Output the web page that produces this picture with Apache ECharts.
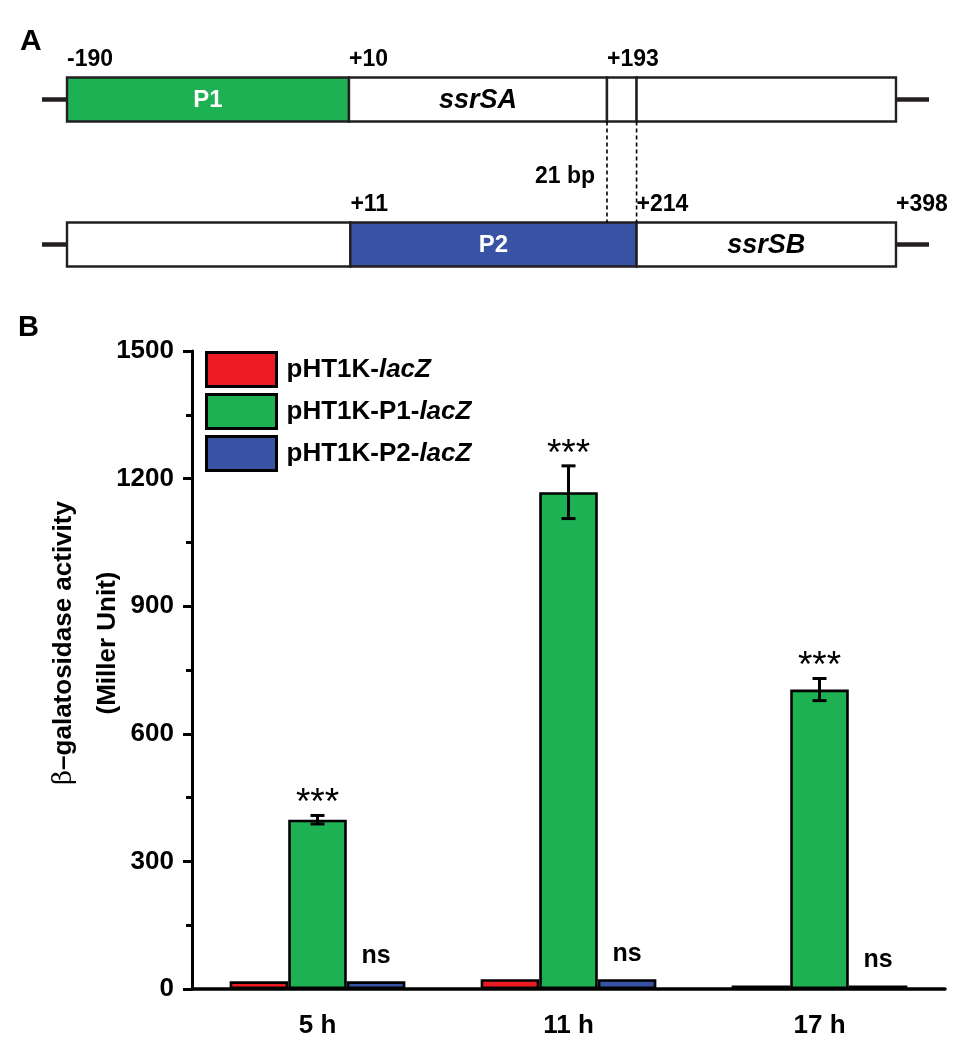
<!DOCTYPE html>
<html><head><meta charset="utf-8">
<script src="https://cdn.jsdelivr.net/npm/echarts@6/dist/echarts.min.js"></script>
<style>html,body{margin:0;padding:0;background:#fff}#c{width:971px;height:1046px}</style>
</head><body><div id="c"></div>
<script>
// ---- Panel B data ----
const timePoints = ['5 h', '11 h', '17 h'];
const seriesNames = ['pHT1K-lacZ', 'pHT1K-P1-lacZ', 'pHT1K-P2-lacZ'];
const controlValues = [18, 23, 8];
const p1Values = [398, 1168, 704];
const p1Errors = [10, 62, 26];
const p2Values = [18, 23, 8];
const p1Significance = ['***', '***', '***'];
const p2Significance = ['ns', 'ns', 'ns'];
const yMin = 0, yMax = 1500, yInterval = 300;

// ---- Panel A data (positions in bp) ----
const diagramRows = ['ssrSA', 'ssrSB'];
const segments = [
  [0, -190, 10, 'P1'], [0, 10, 193, 'ssrSA'], [0, 193, 214, ''], [0, 214, 398, ''],
  [1, -190, 11, ''], [1, 11, 214, 'P2'], [1, 214, 398, 'ssrSB']
];
const positionLabels = [
  [0, -190, '-190'], [0, 10, '+10'], [0, 193, '+193'],
  [1, 11, '+11'], [1, 214, '+214'], [1, 398, '+398']
];
const overlapBounds = [193, 214];
const overlapLabel = '21 bp';
const diagramExtent = [-190, 398];

// ---- styles ----
const FONT = '"Liberation Sans", Arial, sans-serif';
const RED = '#ED1C24', GREEN = '#1DB154', BLUE = '#3953A4', INK = '#000';
const BOX_H = 44;

function renderBackbone(params, api) {
  const a = api.coord([api.value(0), api.value(1)]);
  const b = api.coord([api.value(2), api.value(1)]);
  return { type: 'group', children: [
    { type: 'line', shape: { x1: a[0] - 25, y1: a[1], x2: a[0], y2: a[1] }, style: { stroke: '#231f20', lineWidth: 4.5 } },
    { type: 'line', shape: { x1: b[0], y1: b[1], x2: b[0] + 33, y2: b[1] }, style: { stroke: '#231f20', lineWidth: 4.5 } }
  ]};
}
function renderSegment(params, api) {
  const label = segments[params.dataIndex][3];
  const a = api.coord([api.value(0), api.value(1)]);
  const b = api.coord([api.value(2), api.value(1)]);
  const promoter = label === 'P1' || label === 'P2';
  const fill = label === 'P1' ? GREEN : (label === 'P2' ? BLUE : '#fff');
  const children = [
    { type: 'rect', shape: { x: a[0], y: a[1] - BOX_H / 2, width: b[0] - a[0], height: BOX_H },
      style: { fill: fill, stroke: '#231f20', lineWidth: 2.4 } }
  ];
  if (label) children.push({ type: 'text', x: (a[0] + b[0]) / 2, y: a[1] + 1,
    style: { text: label, align: 'center', verticalAlign: 'middle', fill: promoter ? '#fff' : INK,
      font: (promoter ? 'bold 24px ' : 'italic bold 27px ') + FONT } });
  return { type: 'group', children: children };
}
function renderPosLabel(params, api) {
  const p = api.coord([api.value(0), api.value(1)]);
  return { type: 'text', x: p[0], y: p[1] - 39.5,
    style: { text: positionLabels[params.dataIndex][2], align: 'left', verticalAlign: 'middle', fill: INK, font: 'bold 23px ' + FONT } };
}
function renderOverlap(params, api) {
  const t = api.coord([api.value(0), 0]);
  const u = api.coord([api.value(0), 1]);
  const children = [{ type: 'line', shape: { x1: t[0], y1: t[1] + BOX_H / 2, x2: t[0], y2: u[1] - BOX_H / 2 },
    style: { stroke: INK, lineWidth: 1.6, lineDash: [4, 3] } }];
  if (params.dataIndex === 0) children.push({ type: 'text', x: t[0] - 12, y: (t[1] + u[1]) / 2 + 5,
    style: { text: overlapLabel, align: 'right', verticalAlign: 'middle', fill: INK, font: 'bold 23px ' + FONT } });
  return { type: 'group', children: children };
}
function renderError(params, api) {
  const i = api.value(0), m = api.value(1), e = api.value(2);
  const top = api.coord([i, m + e]);
  const bot = api.coord([i, m - e]);
  const w = 7;
  return { type: 'group', children: [
    { type: 'line', shape: { x1: top[0], y1: top[1], x2: bot[0], y2: bot[1] }, style: { stroke: INK, lineWidth: 3 } },
    { type: 'line', shape: { x1: top[0] - w, y1: top[1], x2: top[0] + w, y2: top[1] }, style: { stroke: INK, lineWidth: 3 } },
    { type: 'line', shape: { x1: bot[0] - w, y1: bot[1], x2: bot[0] + w, y2: bot[1] }, style: { stroke: INK, lineWidth: 3 } },
    { type: 'text', x: top[0], y: top[1] + 7,
      style: { text: p1Significance[params.dataIndex], align: 'center', verticalAlign: 'bottom', fill: INK, font: 'normal 37px ' + FONT } }
  ]};
}

const barStyle = c => ({ color: c, borderColor: INK, borderWidth: 2.6 });

const option = {
  animation: false,
  backgroundColor: '#fff',
  title: [
    { text: 'A', left: 20, top: 27, padding: 0, textStyle: { fontSize: 30, fontWeight: 'bold', color: INK, fontFamily: FONT } },
    { text: 'B', left: 18, top: 313, padding: 0, textStyle: { fontSize: 29, fontWeight: 'bold', color: INK, fontFamily: FONT } }
  ],
  grid: [
    { left: 67, right: 75, top: 27, height: 290 },
    { left: 192, right: 26, top: 351, bottom: 57 }
  ],
  xAxis: [
    { type: 'value', gridIndex: 0, min: diagramExtent[0], max: diagramExtent[1], show: false },
    { type: 'category', gridIndex: 1, data: timePoints,
      axisLine: { lineStyle: { color: INK, width: 3.5 } }, axisTick: { show: false },
      axisLabel: { color: INK, fontSize: 26, fontWeight: 'bold', fontFamily: FONT, margin: 24 } }
  ],
  yAxis: [
    { type: 'category', gridIndex: 0, data: diagramRows, inverse: true, show: false },
    { type: 'value', gridIndex: 1, min: yMin, max: yMax, interval: yInterval,
      axisLine: { show: true, lineStyle: { color: INK, width: 3 } },
      axisTick: { show: true, length: 9, lineStyle: { color: INK, width: 3 } },
      minorTick: { show: true, splitNumber: 2, length: 6, lineStyle: { color: INK, width: 3 } },
      splitLine: { show: false },
      axisLabel: { color: INK, fontSize: 26, fontWeight: 'bold', fontFamily: FONT, margin: 18, formatter: v => String(v) },
      name: '{beta|β}{b|–galatosidase activity}\n{b|(Miller Unit)}',
      nameLocation: 'middle', nameRotate: 90, nameGap: 62, nameMoveOverlap: false,
      nameTextStyle: { color: INK, padding: [0, 0, 0, 54], rich: {
        beta: { fontFamily: '"DejaVu Serif", serif', fontSize: 26, fontWeight: 'normal', color: INK, lineHeight: 44 },
        b: { fontFamily: FONT, fontSize: 26, fontWeight: 'bold', color: INK, lineHeight: 44 } } }
    }
  ],
  legend: {
    data: seriesNames, orient: 'vertical', left: 205, top: 351, padding: 0,
    itemWidth: 70, itemHeight: 34, itemGap: 5, icon: 'rect', selectedMode: false,
    itemStyle: { borderWidth: 3 },
    formatter: n => '{b|' + n.replace('lacZ', '') + '}{i|lacZ}',
    textStyle: { padding: [0, 0, 0, 5], rich: {
      b: { fontFamily: FONT, fontSize: 26, fontWeight: 'bold', color: INK },
      i: { fontFamily: FONT, fontSize: 26, fontWeight: 'bold', fontStyle: 'italic', color: INK } } }
  },
  series: [
    { type: 'custom', name: 'backbone', xAxisIndex: 0, yAxisIndex: 0, renderItem: renderBackbone, clip: false,
      encode: { x: [0, 2], y: 1 }, data: diagramRows.map((r, i) => [diagramExtent[0], i, diagramExtent[1]]), z: 1 },
    { type: 'custom', name: 'segments', xAxisIndex: 0, yAxisIndex: 0, renderItem: renderSegment, clip: false,
      encode: { x: [0, 2], y: 1 }, data: segments.map(s => [s[1], s[0], s[2]]), z: 2 },
    { type: 'custom', name: 'positions', xAxisIndex: 0, yAxisIndex: 0, renderItem: renderPosLabel, clip: false,
      encode: { x: 0, y: 1 }, data: positionLabels.map(p => [p[1], p[0]]), z: 3 },
    { type: 'custom', name: 'overlap', xAxisIndex: 0, yAxisIndex: 0, renderItem: renderOverlap, clip: false,
      encode: { x: 0, y: 1 }, data: overlapBounds.map(v => [v, 0]), z: 3 },
    { type: 'bar', name: seriesNames[0], xAxisIndex: 1, yAxisIndex: 1, data: controlValues,
      barGap: '0%', barCategoryGap: '30%', itemStyle: barStyle(RED) },
    { type: 'bar', name: seriesNames[1], xAxisIndex: 1, yAxisIndex: 1, data: p1Values,
      barGap: '0%', barCategoryGap: '30%', itemStyle: barStyle(GREEN) },
    { type: 'bar', name: seriesNames[2], xAxisIndex: 1, yAxisIndex: 1, data: p2Values,
      barGap: '0%', barCategoryGap: '30%', itemStyle: barStyle(BLUE),
      label: { show: true, position: 'top', distance: 13, formatter: p => p2Significance[p.dataIndex],
        color: INK, fontSize: 25, fontWeight: 'bold', fontFamily: FONT } },
    { type: 'custom', name: 'error', xAxisIndex: 1, yAxisIndex: 1, renderItem: renderError, clip: false,
      encode: { x: 0, y: 1 }, data: p1Values.map((v, i) => [i, v, p1Errors[i]]), z: 5 }
  ]
};
echarts.init(document.getElementById('c')).setOption(option);
</script></body></html>
